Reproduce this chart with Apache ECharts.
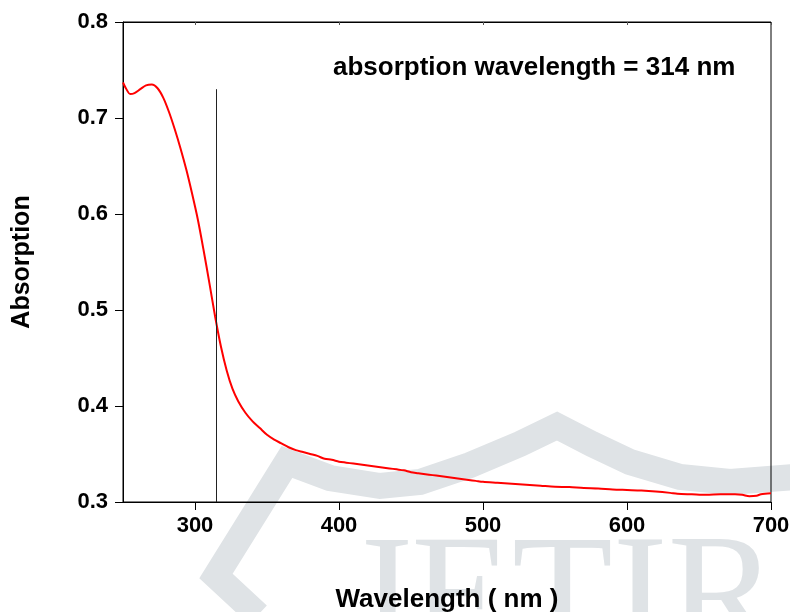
<!DOCTYPE html>
<html>
<head>
<meta charset="utf-8">
<script src="https://cdn.jsdelivr.net/npm/echarts@6/dist/echarts.min.js"></script>
<style>
  html, body { margin: 0; padding: 0; background: #fff; }
  #chart { width: 790px; height: 612px; }
</style>
</head>
<body>
<div id="chart"></div>
<script>
// 吸收光谱 data
const wavelength = [250, 252, 255, 258, 262, 266, 270, 274, 278, 282, 286, 290, 294, 298, 302, 306, 310, 314, 318, 322, 326, 330, 335, 340, 345, 350, 355, 360, 365, 370, 375, 380, 385, 390, 395, 400, 405, 410, 415, 420, 425, 430, 435, 440, 445, 450, 455, 460, 465, 470, 475, 480, 485, 490, 495, 500, 510, 520, 530, 540, 550, 560, 570, 580, 590, 600, 610, 620, 630, 635, 645, 655, 665, 675, 680, 685, 690, 693, 700];
const absorbance = [0.737, 0.731, 0.725, 0.726, 0.730, 0.734, 0.735, 0.731, 0.721, 0.706, 0.688, 0.668, 0.646, 0.621, 0.594, 0.562, 0.528, 0.493, 0.462, 0.437, 0.418, 0.405, 0.393, 0.384, 0.377, 0.370, 0.365, 0.361, 0.357, 0.354, 0.352, 0.350, 0.348, 0.345, 0.344, 0.342, 0.341, 0.340, 0.339, 0.338, 0.337, 0.336, 0.335, 0.334, 0.333, 0.331, 0.330, 0.329, 0.328, 0.327, 0.326, 0.325, 0.324, 0.323, 0.322, 0.321, 0.320, 0.319, 0.318, 0.317, 0.316, 0.3155, 0.3145, 0.314, 0.313, 0.3125, 0.312, 0.311, 0.3095, 0.3085, 0.308, 0.3075, 0.308, 0.308, 0.3075, 0.306, 0.3065, 0.308, 0.309];
const xTicks = [300, 400, 500, 600, 700];
const peakLine = [[315, 0.3], [315, 0.73]];
const noteText = 'absorption wavelength = 314 nm';

const seriesData = wavelength.map((w, i) => [w, absorbance[i]]);
const font = 'Liberation Sans, Arial, sans-serif';

const chart = echarts.init(document.getElementById('chart'));
chart.setOption({
  animation: false,
  backgroundColor: '#fff',
  grid: {
    left: 123, top: 22, width: 648, height: 480,
    outerBoundsMode: 'none',
    containLabel: false,
    show: true, borderColor: '#000', borderWidth: 1
  },
  graphic: [
    // 水印
    {
      type: 'polyline', z: -10, silent: true,
      shape: { points: [[258, 615], [216, 576], [287, 462], [330, 478], [380, 486], [420, 482], [470, 465], [520, 444], [557, 426], [592, 444], [630, 462], [680, 477], [730, 482], [795, 477]] },
      style: { stroke: '#dfe3e6', lineWidth: 26, fill: null, lineJoin: 'miter' }
    },
    {
      type: 'text', z: -10, silent: true, left: 347, top: 522,
      style: { text: 'JETIR', fill: '#dfe3e6', font: '165px "Liberation Serif", serif' }
    },
    {
      type: 'text', left: 333, top: 55,
      style: { text: noteText, fill: '#000', font: 'bold 26px ' + font }
    }
  ],
  xAxis: [{
    type: 'value',
    min: 250, max: 700,
    name: 'Wavelength ( nm )',
    nameLocation: 'middle',
    nameGap: 85,
    nameTextStyle: { fontFamily: font, fontWeight: 'bold', fontSize: 26, color: '#000' },
    axisLine: { show: true, lineStyle: { color: '#000', width: 1 } },
    axisTick: { show: true, length: 8, customValues: xTicks, lineStyle: { color: '#000' } },
    axisLabel: {
      customValues: xTicks, margin: 13,
      fontFamily: font, fontWeight: 'bold', fontSize: 22, color: '#000'
    },
    splitLine: { show: false }
  }, {
    type: 'value', position: 'top',
    min: 250, max: 700,
    axisLine: { show: true, lineStyle: { color: '#000' } },
    axisTick: { show: true, inside: true, length: 3, customValues: xTicks, lineStyle: { color: '#555' } },
    axisLabel: { show: false },
    splitLine: { show: false }
  }],
  yAxis: {
    type: 'value',
    min: 0.3, max: 0.8, interval: 0.1,
    name: 'Absorption',
    nameLocation: 'middle',
    nameGap: 88,
    nameTextStyle: { fontFamily: font, fontWeight: 'bold', fontSize: 25, color: '#000' },
    axisLine: { show: true, lineStyle: { color: '#000', width: 1 } },
    axisTick: { show: true, length: 8, lineStyle: { color: '#000' } },
    axisLabel: {
      margin: 15,
      formatter: v => v.toFixed(1),
      fontFamily: font, fontWeight: 'bold', fontSize: 22, color: '#000'
    },
    splitLine: { show: false }
  },
  series: [{
    type: 'line',
    data: seriesData,
    showSymbol: false,
    smooth: 0.3,
    lineStyle: { color: '#ff0000', width: 2 },
    markLine: {
      silent: true,
      symbol: 'none',
      label: { show: false },
      lineStyle: { color: '#222', width: 1, type: 'solid' },
      data: [[{ coord: peakLine[0] }, { coord: peakLine[1] }]]
    }
  }]
});
</script>
</body>
</html>
